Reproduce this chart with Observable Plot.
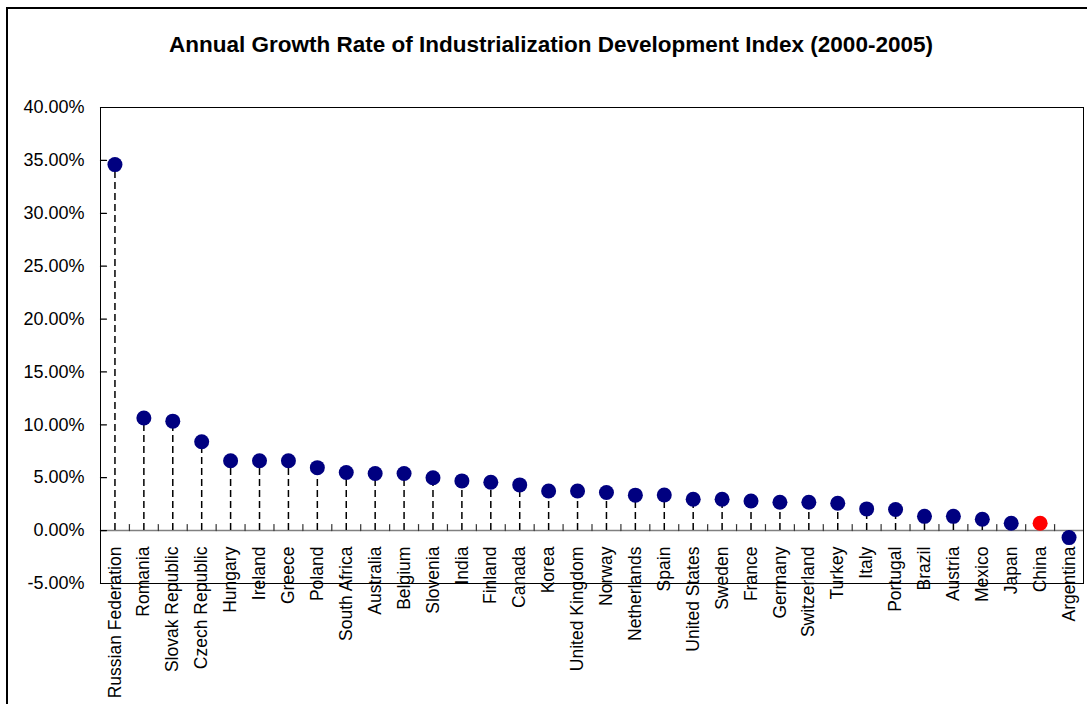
<!DOCTYPE html>
<html><head><meta charset="utf-8">
<script src="https://cdn.jsdelivr.net/npm/d3@7"></script>
<script src="https://cdn.jsdelivr.net/npm/@observablehq/plot@0.6"></script>
<style>
body{margin:0;background:#fff;font-family:"Liberation Sans",Arial,sans-serif;}
#wrap{position:relative;width:1087px;height:704px;overflow:hidden;background:#fff;}
#border{position:absolute;left:6px;top:7px;width:1200px;height:800px;border-left:2px solid #000;border-top:2px solid #000;}
#title{position:absolute;left:0;top:0;width:1102px;height:90px;line-height:90px;text-align:center;font-weight:bold;font-size:22.5px;color:#000;}
#chart{position:absolute;left:0;top:70px;}
</style></head>
<body>
<div id="wrap"><div id="border"></div><div id="title">Annual Growth Rate of Industrialization Development Index (2000-2005)</div><div id="chart"></div></div>
<script>
const countries = ["Russian Federation","Romania","Slovak Republic","Czech Republic","Hungary","Ireland","Greece","Poland","South Africa","Australia","Belgium","Slovenia","India","Finland","Canada","Korea","United Kingdom","Norway","Netherlands","Spain","United States","Sweden","France","Germany","Switzerland","Turkey","Italy","Portugal","Brazil","Austria","Mexico","Japan","China","Argentina"];
const growth = [34.6,10.65,10.35,8.4,6.6,6.6,6.6,5.95,5.5,5.4,5.4,5.0,4.7,4.57,4.32,3.75,3.75,3.6,3.35,3.37,2.96,2.96,2.8,2.68,2.68,2.58,2.05,2.0,1.35,1.35,1.07,0.69,0.69,-0.66];
const highlighted = ["China"];
const yTicks = [-5,0,5,10,15,20,25,30,35,40];

const data = countries.map((c,i)=>({country:c, value:growth[i], pos:i+0.5,
  color: highlighted.includes(c) ? "#ff0000" : "#000080"}));
const boundaries = d3.range(1, countries.length);
const lineShape = {draw(context, l){ context.moveTo(0,0); context.lineTo(0,-l); }};

const chart = Plot.plot({
  width:1087, height:634,
  marginTop:37, marginLeft:100, marginRight:4, marginBottom:121,
  style:{fontFamily:"'Liberation Sans', Arial, sans-serif", fontSize:"18px", background:"transparent", color:"#000"},
  x:{domain:[0,countries.length], axis:null},
  y:{domain:[-5,40], axis:null},
  color:{type:"identity"},
  marks:[
    Plot.ruleY([0], {stroke:"#808080", strokeWidth:1.5}),
    Plot.vector(boundaries, {x:d=>d, y:0, length:6, rotate:0, anchor:"start", shape:lineShape, stroke:"#333", strokeWidth:1.2}),
    Plot.ruleX(data, {x:"pos", y1:0, y2:"value", stroke:"#000", strokeWidth:1.5, strokeDasharray:"7,4"}),
    Plot.dot(data, {x:"pos", y:"value", r:7.5, fill:"color", stroke:null}),
    Plot.text(data, {x:"pos", y:0, text:"country", rotate:-90, textAnchor:"end", dy:16, fontSize:17.5, fill:"#000"}),
    Plot.vector(yTicks, {y:d=>d, frameAnchor:"left", length:6, rotate:90, anchor:"start", shape:lineShape, stroke:"#000", strokeWidth:1.2}),
    Plot.axisY({ticks:yTicks, label:null, tickFormat:d=>d.toFixed(2)+"%", tickSize:0, tickPadding:16, fontSize:18}),
    Plot.frame({stroke:"#000", strokeWidth:1})
  ]
});
document.getElementById("chart").appendChild(chart);
</script>
</body></html>
